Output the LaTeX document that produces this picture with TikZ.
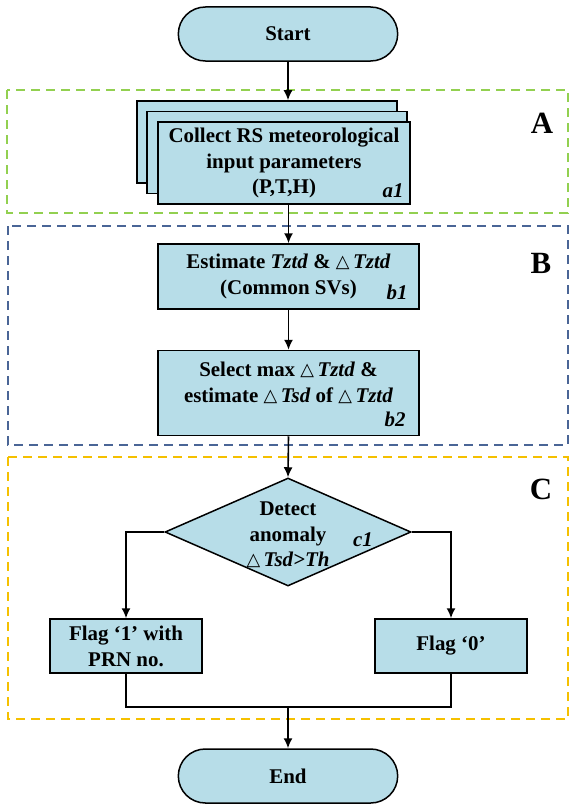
\documentclass[tikz,border=0pt]{standalone}
\usepackage{fontspec}
\setmainfont{Liberation Serif}
\newfontfamily\trifont{DejaVu Sans}[Scale=0.85]
\usepackage{xcolor}
\usetikzlibrary{arrows.meta,positioning,shapes.geometric,shapes.misc}

\definecolor{boxblue}{HTML}{B7DDE8}
\definecolor{zonegreen}{HTML}{92D050}
\definecolor{zoneblue}{HTML}{4A6596}
\definecolor{zoneyellow}{HTML}{F5C000}
\newcommand{\dtri}{{\trifont\raisebox{1bp}{△}}\,}
\newcommand{\vname}[1]{\textit{#1}}

\begin{document}
\begin{tikzpicture}[
    x=1bp, y=-1bp,
    font=\bfseries\fontsize{21}{26}\selectfont,
    term/.style={rounded rectangle, draw=black, line width=1.5bp, fill=boxblue,
                 minimum width=226bp, minimum height=54bp},
    proc/.style={rectangle, draw=black, line width=1.5bp, fill=boxblue,
                 align=center, inner sep=2bp},
    dec/.style={diamond, draw=black, line width=1.5bp, fill=boxblue,
                minimum width=246bp, minimum height=108bp, inner sep=0pt},
    tag/.style={font=\bfseries\itshape\fontsize{21}{21}\selectfont, inner sep=0pt},
    zone/.style={dash pattern=on 9bp off 6bp, line width=2.4bp},
    zonelabel/.style={font=\bfseries\fontsize{31}{31}\selectfont},
    arrow/.style={-{Latex[length=10bp,width=9bp]}, line width=1.6bp},
    line/.style={line width=1.6bp}
  ]
    \useasboundingbox (0,0) rectangle (571,804);
    % dashed zones
    \draw[zone, zonegreen] (7,90) rectangle (568,213);
    \draw[zone, zoneblue] (8,226) rectangle (568,445);
    \draw[zone, zoneyellow] (8,457) rectangle (568,719);
    \node[zonelabel] (labA) at (542,123) {A};
    \node[zonelabel] (labB) at (541,263) {B};
    \node[zonelabel] (labC) at (541,489) {C};

    \node[term] (start) at (288,34) {Start};
    \node[proc, minimum width=260bp, minimum height=82bp] (a1back) at (267,142) {};
    \node[proc, minimum width=260bp, minimum height=82bp] (a1mid) at (277,152.5) {};
    \node[proc, minimum width=252bp, minimum height=82bp] (a1) at (284,163)
      {Collect RS meteorological\\input parameters\\(P,T,H)};
    \node[tag, above left=7bp and 7bp of a1.south east] (a1tag) {a1};

    \node[proc, minimum width=261bp, minimum height=65bp] (b1) at (288.5,276.5)
      {Estimate \vname{Tztd} \& \dtri\vname{Tztd}\\(Common SVs)};
    \node[tag, above left=10bp and 12bp of b1.south east] (b1tag) {b1};
    \node[proc, below=40bp of b1, minimum width=261bp, minimum height=85bp] (b2)
      {Select max \dtri\vname{Tztd} \&\\estimate \dtri\vname{Tsd} of \dtri\vname{Tztd}\rule[-22bp]{0pt}{0pt}};
    \node[tag, above left=9bp and 14bp of b2.south east] (b2tag) {b2};

    \node[dec] (c1) at (288,532)
      {\makebox[0pt]{\smash{\raisebox{-9bp}{\begin{tabular}{@{}c@{}}Detect\\anomaly\\\dtri\vname{Tsd>Th}\end{tabular}}}}};
    \node[tag] (c1tag) at (363,540) {c1};

    \node[proc, minimum width=152bp, minimum height=54bp] (flag1) at (126,646)
      {Flag ‘1’ with\\PRN no.};
    \node[proc, minimum width=152bp, minimum height=54bp] (flag0) at (451,646)
      {Flag ‘0’};
    \node[term] (end) at (288,776) {End};
    \coordinate (mrg) at (288,707);

    \draw[arrow] (start.south) -- (start.south |- a1back.north);
    \draw[arrow] (b1.north |- a1.south) -- (b1.north);
    \draw[arrow] (b1) -- (b2);
    \draw[arrow] (b2.south) -- (c1.north);
    \draw[arrow] (c1.west) -| (flag1.north);
    \draw[arrow] (c1.east) -| (flag0.north);
    \draw[line] (flag1.south) |- (mrg);
    \draw[line] (flag0.south) |- (mrg);
    \draw[arrow] (mrg) -- (end.north);
  \end{tikzpicture}
\end{document}
